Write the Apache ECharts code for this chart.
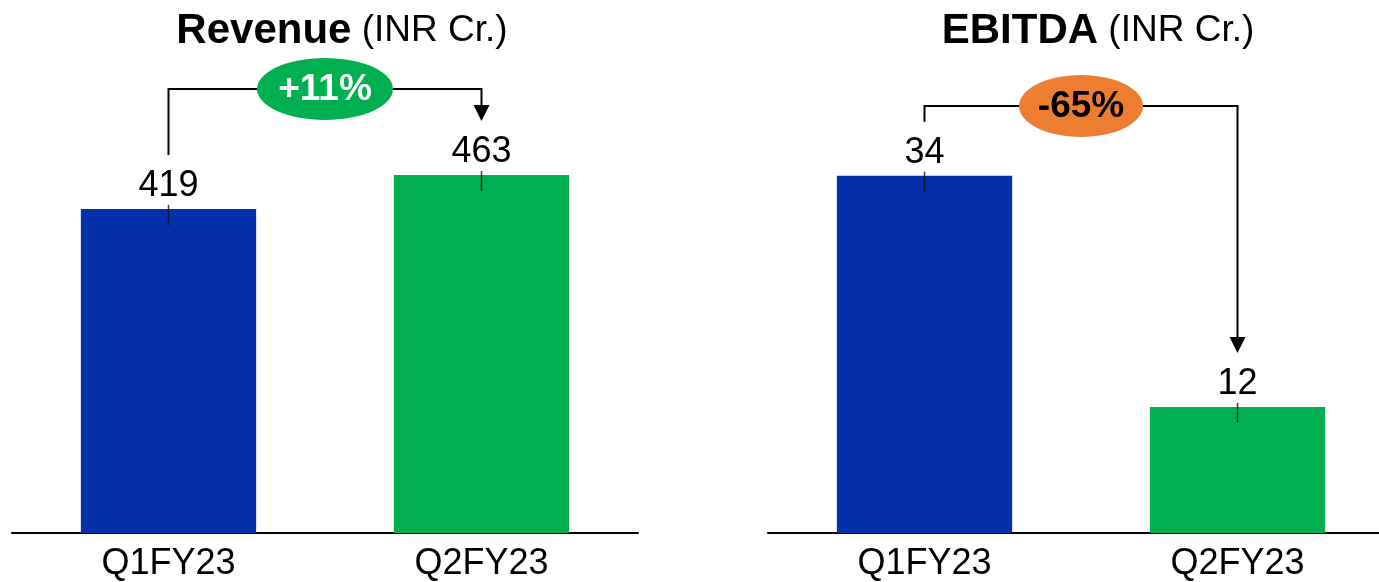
<!DOCTYPE html>
<html lang="en">
<head>
    <meta charset="UTF-8">
    <title>Revenue and EBITDA</title>
    <style>
        * { margin: 0; padding: 0; box-sizing: border-box; }
        body { background: #ffffff; }
        #chart { width: 1379px; height: 582px; }
    </style>
    <script src="https://cdn.jsdelivr.net/npm/echarts@6/dist/echarts.min.js"></script>
</head>
<body>
    <div id="chart"></div>
    <script>
        // data
        const categories = ['Q1FY23', 'Q2FY23'];
        const revenue = [419, 463];
        const ebitda = [34, 12];
        const changeLabels = ['+11%', '-65%'];
        const barColors = ['#0530AB', '#00B050'];

        const FONT = '"Liberation Sans", Arial, sans-serif';

        const chart = echarts.init(document.getElementById('chart'));

        // bracket + arrow + growth badge between the two bars
        function makeBracket(levelY, rx, badgeColor, textColor, text) {
            return function (params, api) {
                const a = api.coord([api.value(0), api.value(1)]);
                const b = api.coord([api.value(2), api.value(3)]);
                const gap = 54;
                const head = 16;
                const midX = (a[0] + b[0]) / 2;
                return {
                    type: 'group',
                    children: [
                        {
                            type: 'polyline',
                            shape: { points: [[a[0], a[1] - gap], [a[0], levelY], [b[0], levelY], [b[0], b[1] - gap - head + 1]] },
                            style: { stroke: '#000', lineWidth: 2, fill: null }
                        },
                        {
                            type: 'polygon',
                            shape: { points: [[b[0] - 8, b[1] - gap - head], [b[0] + 8, b[1] - gap - head], [b[0], b[1] - gap]] },
                            style: { fill: '#000' }
                        },
                        {
                            type: 'ellipse',
                            shape: { cx: midX, cy: levelY, rx: rx, ry: 31 },
                            style: { fill: badgeColor }
                        },
                        {
                            type: 'text',
                            style: {
                                text: text, x: midX, y: levelY + 1,
                                align: 'center', verticalAlign: 'middle',
                                font: 'bold 37px ' + FONT, fill: textColor
                            }
                        }
                    ]
                };
            };
        }

        function barData(values) {
            return values.map((v, i) => ({ value: v, itemStyle: { color: barColors[i] } }));
        }

        function axisX(idx) {
            return {
                type: 'category', gridIndex: idx, data: categories,
                axisLine: { lineStyle: { color: '#000', width: 2 } },
                axisTick: { show: false },
                axisLabel: { fontSize: 36, color: '#000', margin: 13, fontFamily: FONT }
            };
        }

        function titleText(name) {
            return {
                text: '{b|' + name + '} {n|(INR Cr.)}',
                textStyle: {
                    fontSize: 37, fontWeight: 'normal', fontFamily: FONT,
                    rich: {
                        b: { fontSize: 42, fontWeight: 'bold', color: '#000', fontFamily: FONT },
                        n: { fontSize: 37, fontWeight: 'normal', color: '#000', fontFamily: FONT }
                    }
                }
            };
        }

        const option = {
            animation: false,
            title: [
                Object.assign({ left: 337, top: 5, textAlign: 'center' }, titleText('Revenue')),
                Object.assign({ left: 1093, top: 5, textAlign: 'center' }, titleText('EBITDA'))
            ],
            grid: [
                { left: 12, width: 626, top: 100, bottom: 49, outerBoundsMode: 'none' },
                { left: 768, width: 626, top: 100, bottom: 49, outerBoundsMode: 'none' }
            ],
            xAxis: [axisX(0), axisX(1)],
            yAxis: [
                { type: 'value', gridIndex: 0, min: 0, max: 560, show: false },
                { type: 'value', gridIndex: 1, min: 0, max: 41.2, show: false }
            ],
            series: [
                {
                    type: 'bar', xAxisIndex: 0, yAxisIndex: 0, barWidth: '56%',
                    data: barData(revenue),
                    label: { show: true, position: 'top', distance: 5, fontSize: 36, color: '#000', fontFamily: FONT }
                },
                {
                    type: 'bar', xAxisIndex: 1, yAxisIndex: 1, barWidth: '56%',
                    data: barData(ebitda),
                    label: { show: true, position: 'top', distance: 5, fontSize: 36, color: '#000', fontFamily: FONT }
                },
                {
                    type: 'scatter', xAxisIndex: 0, yAxisIndex: 0, silent: true, z: 5,
                    symbol: 'rect', symbolSize: [1.5, 20], symbolOffset: [0, 6],
                    itemStyle: { color: '#111' }, data: revenue
                },
                {
                    type: 'scatter', xAxisIndex: 1, yAxisIndex: 1, silent: true, z: 5,
                    symbol: 'rect', symbolSize: [1.5, 20], symbolOffset: [0, 6],
                    itemStyle: { color: '#111' }, data: ebitda
                },
                {
                    type: 'custom', xAxisIndex: 0, yAxisIndex: 0, z: 10, silent: true,
                    renderItem: makeBracket(89, 68, '#00B050', '#ffffff', changeLabels[0]),
                    data: [[0, revenue[0], 1, revenue[1]]]
                },
                {
                    type: 'custom', xAxisIndex: 1, yAxisIndex: 1, z: 10, silent: true,
                    renderItem: makeBracket(106, 62, '#ED7D31', '#000000', changeLabels[1]),
                    data: [[0, ebitda[0], 1, ebitda[1]]]
                }
            ]
        };

        chart.setOption(option);
    </script>
</body>
</html>
